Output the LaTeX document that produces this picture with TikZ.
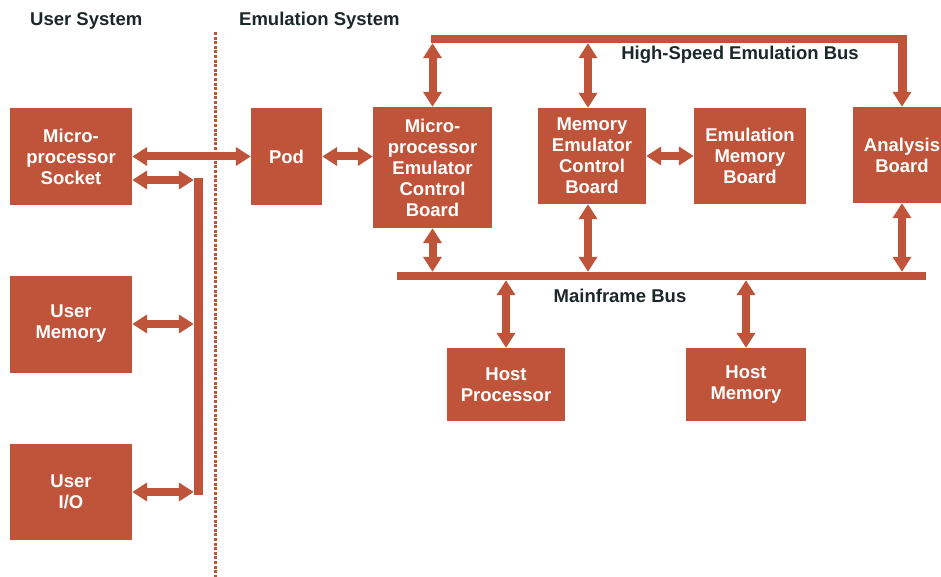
\documentclass[tikz,border=0pt]{standalone}
\usepackage{fontspec}
\setmainfont{Liberation Sans}
\usetikzlibrary{arrows.meta}
\definecolor{brick}{RGB}{191,84,58}
\definecolor{ink}{RGB}{28,40,40}
\begin{document}
\begin{tikzpicture}[x=1pt,y=-1pt,
  box/.style={fill=brick, draw=none, text=white, font=\fontsize{18.5}{21}\selectfont\bfseries, align=center, inner sep=0pt},
  busbar/.style={fill=brick, draw=none, inner sep=0pt, minimum height=8pt},
  lbl/.style={text=ink, font=\fontsize{18.5}{21}\selectfont\bfseries, inner sep=0pt},
  link/.style={draw=brick, line width=8pt, {Triangle[width=18pt,length=15pt]}-{Triangle[width=18pt,length=15pt]}},
  onelink/.style={draw=brick, line width=9pt, -{Triangle[width=18pt,length=15pt]}},
  divider/.style={draw=brick, line width=2.2pt, dash pattern=on 3pt off 1.6pt}
]
\useasboundingbox (0,0) rectangle (941,577);

% labels
\node[lbl, anchor=west] (us) at (30,21) {User System};
\node[lbl, anchor=west] (es) at (239,21) {Emulation System};
\node[lbl] (hsl) at (740,55) {High-Speed Emulation Bus};
\node[lbl] (mfl) at (620,296) {Mainframe Bus};

% divider
\coordinate (dtop) at (215.5,32);
\coordinate (dbot) at (215.5,577);
\draw[divider] (dtop) -- (dbot);

% boxes
\node[box, minimum width=122pt, minimum height=97pt] (sock) at (71,156.5) {Micro-\\processor\\Socket};
\node[box, minimum width=122pt, minimum height=97pt] (umem) at (71,324) {User\\Memory};
\node[box, minimum width=122pt, minimum height=96pt] (uio) at (71,492) {User\\I/O};
\node[box, minimum width=71pt, minimum height=97pt] (pod) at (286.5,156.5) {Pod};
\node[box, minimum width=119pt, minimum height=121pt] (mpecb) at (432.5,167.5) {Micro-\\processor\\Emulator\\Control\\Board};
\node[box, minimum width=108pt, minimum height=96pt] (mecb) at (592,156) {Memory\\Emulator\\Control\\Board};
\node[box, minimum width=112pt, minimum height=96pt] (emb) at (750,156) {Emulation\\Memory\\Board};
\node[box, minimum width=98pt, minimum height=96pt] (anb) at (902,155) {Analysis\\Board};
\node[box, minimum width=118pt, minimum height=73pt] (hp) at (506,384.5) {Host\\Processor};
\node[box, minimum width=120pt, minimum height=73pt] (hm) at (746,384.5) {Host\\Memory};

% buses
\node[busbar, minimum width=476pt] (hsbus) at (669,39) {};
\node[busbar, minimum width=529pt] (mfbus) at (661.5,276) {};
\node[busbar, minimum width=9pt, minimum height=317pt] (vbar) at (198.5,336.5) {};

% left side connectors
\coordinate (r180) at (0,180);
\draw[link] (sock.east) -- (pod.west);
\draw[link] (sock.east |- r180) -- (vbar.west |- r180);
\draw[link] (umem.east) -- (vbar.west |- umem.east);
\draw[link] (uio.east) -- (vbar.west |- uio.east);

% emulation side
\draw[link] (pod.east) -- (mpecb.west |- pod.east);
\draw[link] (mecb.east) -- (emb.west);
\draw[link] (mpecb.north |- hsbus.south) -- (mpecb.north);
\draw[link] ([xshift=-4pt]mecb.north |- hsbus.south) -- ([xshift=-4pt]mecb.north);
\draw[onelink] (anb.north |- hsbus.north) -- (anb.north);
\draw[link] (mpecb.south) -- (mpecb.south |- mfbus.north);
\draw[link] ([xshift=-4pt]mecb.south) -- ([xshift=-4pt]mecb.south |- mfbus.north);
\draw[link] (anb.south) -- (anb.south |- mfbus.north);
\draw[link] (hp.north) -- (hp.north |- mfbus.south);
\draw[link] (hm.north) -- (hm.north |- mfbus.south);
\end{tikzpicture}
\end{document}
